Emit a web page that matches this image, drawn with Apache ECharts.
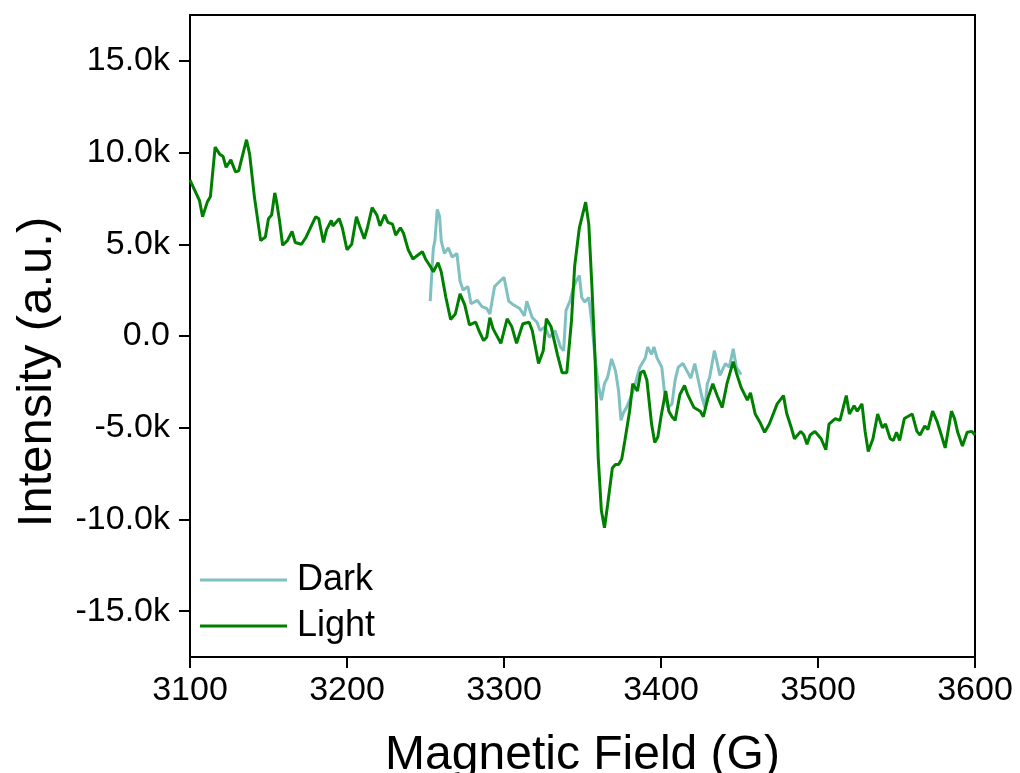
<!DOCTYPE html>
<html>
<head>
<meta charset="utf-8">
<script src="https://cdn.jsdelivr.net/npm/echarts@6/dist/echarts.min.js"></script>
<style>html,body{margin:0;padding:0;background:#fff;}#c{width:1020px;height:773px;}</style>
</head>
<body>
<div id="c"></div>
<script>
const xTicks = [3100, 3200, 3300, 3400, 3500, 3600];
const yTicks = [-15000, -10000, -5000, 0, 5000, 10000, 15000];

const lightField = [
3100,3106,3108,3111,3113,3116,3119,3121,3123,3126,
3129,3131,3136,3138,3141,3145,3148,3150,3152,3154,
3155,3157,3159,3162,3165,3167,3171,3174,3180,3182,
3185,3187,3190,3191,3195,3197,3200,3203,3206,3208,
3211,3213,3216,3219,3221,3224,3226,3229,3231,3234,
3236,3239,3242,3245,3248,3250,3253,3255,3258,3260,
3263,3266,3269,3272,3275,3278,3282,3284,3287,3289,
3291,3293,3298,3302,3305,3308,3312,3316,3318,3322,
3325,3327,3330,3334,3337,3340,3343,3345,3348,3352,
3354,3356,3358,3360,3362,3364,3366,3369,3371,3373,
3375,3377,3380,3382,3385,3387,3389,3391,3394,3396,
3398,3400,3403,3405,3407,3409,3412,3415,3417,3421,
3425,3427,3430,3433,3436,3439,3442,3446,3448,3451,
3455,3457,3460,3463,3466,3469,3474,3478,3480,3483,
3485,3489,3491,3493,3495,3498,3500,3502,3505,3507,
3511,3514,3518,3520,3523,3525,3528,3530,3532,3535,
3538,3541,3543,3546,3548,3550,3552,3555,3560,3563,
3565,3568,3570,3573,3576,3578,3581,3585,3587,3589,
3592,3595,3598,3600
];
const lightIntensity = [
8500,7400,6500,7300,7600,10300,9900,9800,9200,9600,
8950,9000,10700,9900,7600,5200,5400,6400,6600,7800,
7400,6300,4950,5200,5700,5100,5000,5400,6500,6400,
5100,5800,6300,6000,6400,5900,4700,5000,6500,6000,
5300,5900,7000,6600,6000,6600,6200,6100,5500,5900,
5600,4700,4200,4400,4600,4200,3800,3500,4000,3500,
2100,900,1200,2300,1700,600,750,300,-250,-70,
1000,400,-400,940,500,-400,670,750,300,-1500,
-800,940,500,-1000,-2000,-2000,850,3800,5900,7300,
6100,2700,-1200,-6600,-9500,-10450,-9200,-7200,-7000,-7000,
-6700,-5700,-4100,-2600,-3000,-2000,-1900,-2400,-4800,-5800,
-5500,-4400,-3000,-4100,-4400,-4600,-3200,-2700,-3200,-3900,
-4100,-4400,-3350,-2600,-3300,-3900,-2600,-1400,-2000,-2800,
-3500,-3100,-4250,-4700,-5250,-4800,-3700,-3250,-4200,-5000,
-5600,-5200,-5400,-5900,-5400,-5200,-5400,-5600,-6200,-4800,
-4500,-4600,-3250,-4250,-3800,-4100,-3700,-5200,-6300,-5600,
-4250,-5000,-4800,-5600,-5700,-5250,-5700,-4500,-4250,-5200,
-5400,-4900,-5100,-4100,-4700,-5250,-6100,-4100,-4500,-5250,
-6000,-5250,-5200,-5400
];

const darkField = [
3253,3254,3255,3256,3257.5,3259,3260,3262,3264.5,3267,
3270,3272,3274,3277,3279,3283,3286,3289,3291,3294,
3297.5,3300,3303,3306,3310,3313,3314.5,3318,3321,3323,
3326,3329,3332.5,3336,3338,3339.5,3342,3344,3346,3348,
3349.5,3351.5,3354,3356,3358,3360,3362,3364,3366,3368.5,
3371,3373,3374.5,3376,3378,3380,3383,3386.5,3390,3391.5,
3394,3395.5,3397.5,3400.5,3402.5,3404.5,3407,3409,3411,3414,
3416.5,3419,3421.5,3424,3426,3428,3429.5,3431,3434,3435.5,
3437.5,3441,3443.5,3446,3448,3451
];
const darkIntensity = [
1900,3400,4800,5200,6900,6500,5200,4500,4800,4300,
4500,3000,2500,2700,1760,1940,1600,1500,1200,2700,
3000,3200,1900,1700,1500,1100,1900,1000,750,300,
500,-70,300,-600,-800,1400,1900,2600,3000,3300,
2100,1850,2100,670,-1200,-2600,-3500,-2600,-2250,-1250,
-1900,-3000,-4600,-4200,-3900,-3500,-2800,-1700,-1200,-600,
-1000,-600,-1200,-1700,-3300,-3900,-3700,-2400,-1700,-1500,
-1900,-2300,-1500,-2500,-3300,-3900,-2600,-2250,-800,-1350,
-2150,-1500,-1700,-700,-1700,-2100
];

const zip = (a, b) => a.map((v, i) => [v, b[i]]);
const FONT = '"Liberation Sans", Arial, sans-serif';

const chart = echarts.init(document.getElementById('c'), null, {renderer: 'canvas'});
chart.setOption({
  backgroundColor: '#ffffff',
  animation: false,
  grid: {left: 190, right: 45, top: 15, bottom: 116, containLabel: false, outerBoundsMode: 'none',
    show: true, borderColor: '#000', borderWidth: 2, backgroundColor: 'transparent'},
  legend: {
    orient: 'vertical', left: 200, top: 562, padding: 0, itemWidth: 87, itemHeight: 3, itemGap: 10, icon: 'rect',
    textStyle: {fontFamily: FONT, fontSize: 36, color: '#000', padding: [0, 0, 0, 5]},
    data: [{name: 'Dark', icon: 'rect'}, {name: 'Light', icon: 'rect'}]
  },
  xAxis: {
    type: 'value', min: 3100, max: 3600, interval: 100,
    name: 'Magnetic Field (G)', nameLocation: 'middle', nameGap: 75,
    nameTextStyle: {fontFamily: FONT, fontSize: 48, color: '#000'},
    axisLine: {show: true, onZero: false, lineStyle: {color: '#000', width: 2}},
    axisTick: {show: true, inside: false, length: 11, lineStyle: {color: '#000', width: 2}, customValues: xTicks},
    axisLabel: {fontFamily: FONT, fontSize: 34, color: '#000', margin: 17, customValues: xTicks,
      formatter: v => String(v)},
    splitLine: {show: false}
  },
  yAxis: {
    type: 'value', min: -17500, max: 17500,
    name: 'Intensity (a.u.)', nameLocation: 'middle', nameGap: 128, nameRotate: 90,
    nameTextStyle: {fontFamily: FONT, fontSize: 49, color: '#000', padding: [0, 72, 0, 0]},
    axisLine: {show: true, onZero: false, lineStyle: {color: '#000', width: 2}},
    axisTick: {show: true, inside: false, length: 11, lineStyle: {color: '#000', width: 2}, customValues: yTicks},
    axisLabel: {fontFamily: FONT, fontSize: 34, color: '#000', margin: 20, customValues: yTicks,
      formatter: v => v === 0 ? '0.0' : (v / 1000).toFixed(1) + 'k'},
    splitLine: {show: false}
  },
  series: [
    {name: 'Dark', type: 'line', data: zip(darkField, darkIntensity), symbol: 'none', showSymbol: false,
      lineStyle: {color: '#80c0c0', width: 3}, itemStyle: {color: '#80c0c0'}, z: 2},
    {name: 'Light', type: 'line', data: zip(lightField, lightIntensity), symbol: 'none', showSymbol: false,
      lineStyle: {color: '#008000', width: 3}, itemStyle: {color: '#008000'}, z: 3}
  ]
});
</script>
</body>
</html>
